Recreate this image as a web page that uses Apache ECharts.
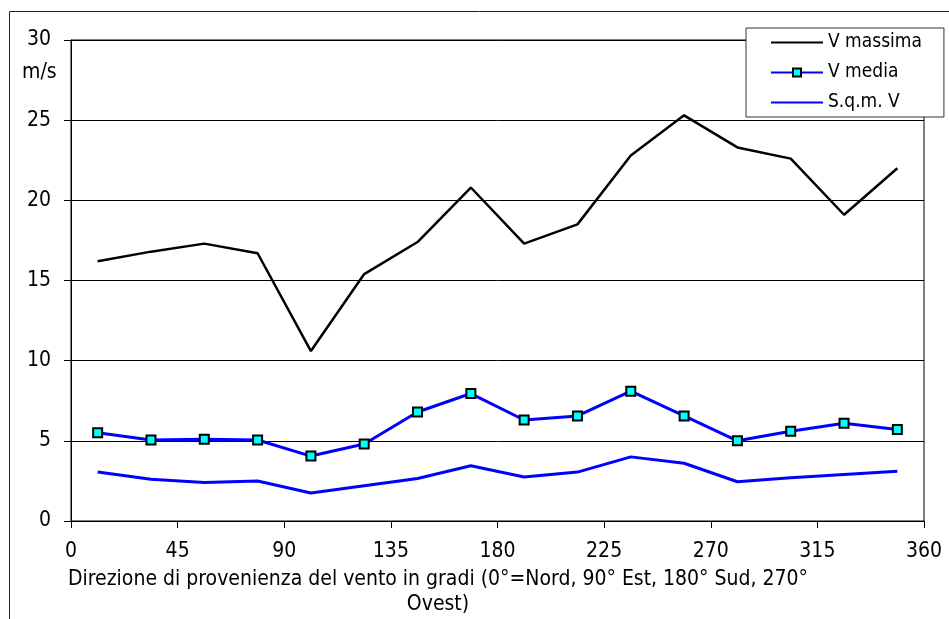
<!DOCTYPE html>
<html>
<head>
<meta charset="utf-8">
<script src="https://cdn.jsdelivr.net/npm/echarts@6/dist/echarts.min.js"></script>
<style>
html,body{margin:0;padding:0;background:#fff;}
#chart{width:949px;height:619px;}
</style>
</head>
<body>
<div id="chart"></div>
<script>
// Data
const directions = [11.25, 33.75, 56.25, 78.75, 101.25, 123.75, 146.25, 168.75, 191.25, 213.75, 236.25, 258.75, 281.25, 303.75, 326.25, 348.75];
const vMassima = [16.2, 16.8, 17.3, 16.7, 10.6, 15.4, 17.4, 20.8, 17.3, 18.5, 22.8, 25.3, 23.3, 22.6, 19.1, 22.0];
const vMedia = [5.5, 5.05, 5.1, 5.05, 4.05, 4.8, 6.8, 7.95, 6.3, 6.55, 8.1, 6.55, 5.0, 5.6, 6.1, 5.7];
const sqmV = [3.05, 2.6, 2.4, 2.5, 1.75, 2.2, 2.65, 3.45, 2.75, 3.05, 4.0, 3.6, 2.45, 2.7, 2.9, 3.1];
const seriesNames = ['V massima', 'V media', 'S.q.m. V'];
const xTitle = 'Direzione di provenienza del vento in gradi (0°=Nord, 90° Est, 180° Sud, 270°\nOvest)';
const yUnit = 'm/s';

const FONT = "'DejaVu Sans Condensed', 'DejaVu Sans', sans-serif";
const FS = 21;
const LFS = 19;

function pairs(vals) { return directions.map((d, i) => [d, vals[i]]); }

const chart = echarts.init(document.getElementById('chart'), null, {renderer: 'canvas'});
chart.setOption({
  animation: false,
  backgroundColor: '#fff',
  textStyle: {fontFamily: FONT, color: '#000'},
  grid: {left: 71, right: 25, top: 40, bottom: 98, show: true, borderColor: '#000', borderWidth: 1, backgroundColor: 'transparent'},
  xAxis: {
    type: 'value', min: 0, max: 360, interval: 45,
    axisLine: {show: true, lineStyle: {color: '#000', width: 1}},
    axisTick: {show: true, length: 7, lineStyle: {color: '#000', width: 1}},
    axisLabel: {fontSize: FS, color: '#000', fontFamily: FONT, margin: 20},
    splitLine: {show: false}
  },
  yAxis: {
    type: 'value', min: 0, max: 30, interval: 5,
    axisLine: {show: true, lineStyle: {color: '#000', width: 1}},
    axisTick: {show: true, length: 7, lineStyle: {color: '#000', width: 1}},
    axisLabel: {fontSize: FS, color: '#000', fontFamily: FONT, margin: 20},
    splitLine: {show: true, lineStyle: {color: '#000', width: 1}}
  },
  legend: {
    orient: 'vertical', left: 746, top: 28,
    padding: [5, 22, 5, 24],
    itemWidth: 52, itemHeight: 10, itemGap: 11,
    backgroundColor: '#fff', borderColor: '#333', borderWidth: 1, borderRadius: 0,
    textStyle: {fontSize: LFS, color: '#000', fontFamily: FONT},
    data: [
      {name: seriesNames[0], itemStyle: {opacity: 0}},
      {name: seriesNames[1]},
      {name: seriesNames[2], itemStyle: {opacity: 0}}
    ]
  },
  series: [
    {name: seriesNames[0], type: 'line', data: pairs(vMassima), symbol: 'none',
     lineStyle: {color: '#000', width: 2.5}, itemStyle: {color: '#000'}},
    {name: seriesNames[1], type: 'line', data: pairs(vMedia), symbol: 'rect', symbolSize: 9,
     lineStyle: {color: '#0000FF', width: 3}, itemStyle: {color: '#00FFFF', borderColor: '#000', borderWidth: 2}},
    {name: seriesNames[2], type: 'line', data: pairs(sqmV), symbol: 'none',
     lineStyle: {color: '#0000FF', width: 3}, itemStyle: {color: '#0000FF'}}
  ],
  graphic: [
    {type: 'rect', shape: {x: 9.5, y: 11.5, width: 1200, height: 1200}, style: {fill: 'none', stroke: '#222', lineWidth: 1}, silent: true, z: -1},
    {type: 'text', left: 22, top: 62, style: {text: yUnit, font: FS + 'px ' + FONT, fill: '#000'}},
    {type: 'text', x: 438, y: 567, style: {text: xTitle, font: FS + 'px ' + FONT, fill: '#000', align: 'center', verticalAlign: 'top', lineHeight: 25}}
  ]
});
</script>
</body>
</html>
